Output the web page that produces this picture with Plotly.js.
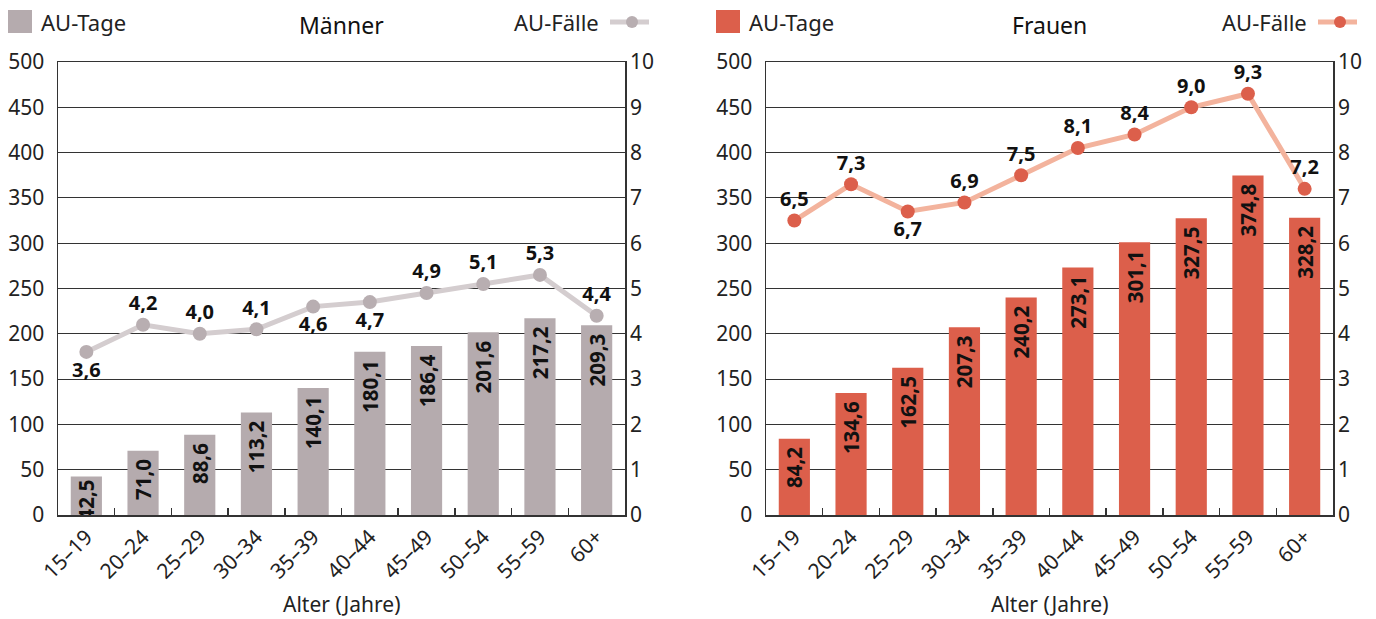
<!DOCTYPE html>
<html>
<head>
<meta charset="utf-8">
<script src="https://cdn.plot.ly/plotly-3.0.1.min.js"></script>
<style>
  html, body { margin: 0; padding: 0; background: #fff; }
  #chart { width: 1376px; height: 619px; }
</style>
</head>
<body>
<div id="chart"></div>
<script>
// Altersgruppen
const ageGroups = ['15–19', '20–24', '25–29', '30–34', '35–39', '40–44', '45–49', '50–54', '55–59', '60+'];

// AU-Tage je 100 Versicherte
const menDays   = [42.5, 71.0, 88.6, 113.2, 140.1, 180.1, 186.4, 201.6, 217.2, 209.3];
const womenDays = [84.2, 134.6, 162.5, 207.3, 240.2, 273.1, 301.1, 327.5, 374.8, 328.2];

// AU-Fälle je 100 Versicherte
const menCases   = [3.6, 4.2, 4.0, 4.1, 4.6, 4.7, 4.9, 5.1, 5.3, 4.4];
const womenCases = [6.5, 7.3, 6.7, 6.9, 7.5, 8.1, 8.4, 9.0, 9.3, 7.2];

// Lage der Fallzahl-Beschriftung (über/unter dem Punkt)
const menCasePos   = ['bottom center', 'top center', 'top center', 'top center', 'bottom center', 'bottom center', 'top center', 'top center', 'top center', 'top center'];
const womenCasePos = ['top center', 'top center', 'bottom center', 'top center', 'top center', 'top center', 'top center', 'top center', 'top center', 'top center'];

const panelTitles = ['Männer', 'Frauen'];
const legendDays = 'AU-Tage';
const legendCases = 'AU-Fälle';
const xTitle = 'Alter (Jahre)';

const FONT = 'Noto Sans, Open Sans, DejaVu Sans, sans-serif';
const W = 1376, H = 619;
const fmt = v => v.toFixed(1).replace('.', ',');
// Balkenbeschriftung mit etwas Abstand zur Balkenoberkante (nicht bei sehr kurzen Balken)
const barLabel = v => v > 60 ? fmt(v) + '\u00a0' : fmt(v);

const palette = {
  men:   { bar: '#b5abae', line: '#d4cdcf', marker: '#b8aeb1' },
  women: { bar: '#dc5f4b', line: '#f3b39d', marker: '#dc5f4b' }
};

// Pixel-Geometrie der beiden Diagrammflächen
const panels = [
  { x0: 58,  x1: 625,  xa: 'x',  ya: 'y',  ya2: 'y2', colors: palette.men,   days: menDays,   cases: menCases,   pos: menCasePos,   title: panelTitles[0] },
  { x0: 766, x1: 1333, xa: 'x2', ya: 'y3', ya2: 'y4', colors: palette.women, days: womenDays, cases: womenCases, pos: womenCasePos, title: panelTitles[1] }
];
const yTop = 62, yBot = 515;
const px = x => x / W;
const py = y => 1 - y / H;

const traces = [];
const annotations = [];
const shapes = [];

panels.forEach(p => {
  traces.push({
    type: 'bar',
    x: ageGroups,
    y: p.days,
    xaxis: p.xa, yaxis: p.ya,
    width: 0.55,
    marker: { color: p.colors.bar },
    text: p.days.map(barLabel),
    textposition: 'inside',
    insidetextanchor: 'end',
    textangle: -90,
    constraintext: 'none',
    textfont: { family: FONT, size: 20.5, color: '#111', weight: 700 },
    hoverinfo: 'skip',
    showlegend: false
  });
  traces.push({
    type: 'scatter',
    mode: 'lines+markers+text',
    x: ageGroups,
    y: p.cases,
    xaxis: p.xa, yaxis: p.ya2,
    line: { color: p.colors.line, width: 5 },
    marker: { color: p.colors.marker, size: 14 },
    text: p.cases.map(fmt),
    textposition: p.pos,
    textfont: { family: FONT, size: 20, color: '#111', weight: 700 },
    cliponaxis: false,
    hoverinfo: 'skip',
    showlegend: false
  });

  const cx = (p.x0 + p.x1) / 2;
  // Titel
  annotations.push({
    xref: 'paper', yref: 'paper', x: px(cx), y: py(25),
    text: p.title, showarrow: false, xanchor: 'center', yanchor: 'middle',
    font: { family: FONT, size: 23, color: '#111' }
  });
  // Achsentitel
  annotations.push({
    xref: 'paper', yref: 'paper', x: px(cx), y: py(604),
    text: xTitle, showarrow: false, xanchor: 'center', yanchor: 'middle',
    font: { family: FONT, size: 21, color: '#222' }
  });
  // Legende AU-Tage
  shapes.push({
    type: 'rect', xref: 'paper', yref: 'paper',
    x0: px(p.x0 - 50), x1: px(p.x0 - 26), y0: py(33), y1: py(10),
    fillcolor: p.colors.bar, line: { width: 0 }
  });
  annotations.push({
    xref: 'paper', yref: 'paper', x: px(p.x0 - 19), y: py(22),
    text: legendDays, showarrow: false, xanchor: 'left', yanchor: 'middle',
    font: { family: FONT, size: 22, color: '#222' }
  });
  // Legende AU-Fälle
  annotations.push({
    xref: 'paper', yref: 'paper', x: px(p.x1 - 24), y: py(22),
    text: legendCases, showarrow: false, xanchor: 'right', yanchor: 'middle',
    font: { family: FONT, size: 22, color: '#222' }
  });
  shapes.push({
    type: 'line', xref: 'paper', yref: 'paper',
    x0: px(p.x1 - 15), x1: px(p.x1 + 24), y0: py(22), y1: py(22),
    line: { color: p.colors.line, width: 5 }
  });
  shapes.push({
    type: 'circle', xref: 'paper', yref: 'paper',
    x0: px(p.x1 + 1), x1: px(p.x1 + 13), y0: py(28), y1: py(16),
    fillcolor: p.colors.marker, line: { width: 0 }
  });
});

const axisLine = '#333';
const tickFont = { family: FONT, size: 21, color: '#222' };

function xAxis(p, yref) {
  return {
    domain: [px(p.x0), px(p.x1)],
    anchor: yref,
    type: 'category',
    range: [-0.5, 9.5],
    tickangle: -45,
    ticks: 'inside', tickson: 'boundaries', ticklen: 7, tickcolor: axisLine, tickwidth: 1.5,
    showline: true, linecolor: axisLine, linewidth: 1.5, mirror: true,
    showgrid: false, zeroline: false,
    tickfont: tickFont, fixedrange: true
  };
}
function yLeft(p, xref) {
  return {
    domain: [py(yBot), py(yTop)],
    anchor: xref,
    range: [0, 500], dtick: 50,
    showgrid: true, gridcolor: '#333333', gridwidth: 1,
    showline: true, linecolor: axisLine, linewidth: 1.5, mirror: true,
    zeroline: false, ticks: '', ticklabelstandoff: 8,
    tickfont: tickFont, fixedrange: true
  };
}
function yRight(overlay, xref) {
  return {
    overlaying: overlay, side: 'right', anchor: xref,
    range: [0, 10], dtick: 1,
    showgrid: false, zeroline: false, showline: false, ticks: '',
    ticklabelstandoff: 4,
    tickfont: tickFont, fixedrange: true
  };
}

const layout = {
  width: W, height: H,
  margin: { l: 0, r: 0, t: 0, b: 0 },
  paper_bgcolor: '#fff', plot_bgcolor: '#fff',
  font: { family: FONT },
  showlegend: false,
  bargap: 0.45,
  xaxis: xAxis(panels[0], 'y'),
  yaxis: yLeft(panels[0], 'x'),
  yaxis2: yRight('y', 'x'),
  xaxis2: xAxis(panels[1], 'y3'),
  yaxis3: yLeft(panels[1], 'x2'),
  yaxis4: yRight('y3', 'x2'),
  annotations: annotations,
  shapes: shapes
};

Plotly.newPlot('chart', traces, layout, { displayModeBar: false, staticPlot: true });
</script>
</body>
</html>
